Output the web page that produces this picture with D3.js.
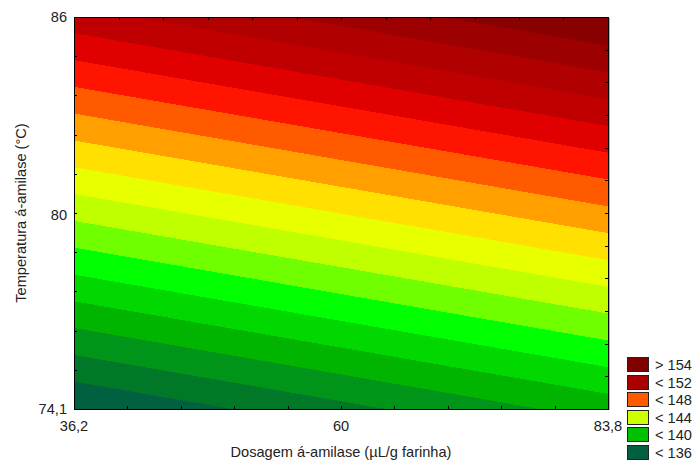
<!DOCTYPE html>
<html><head><meta charset="utf-8">
<script src="https://cdn.jsdelivr.net/npm/d3@7"></script>
<style>
html,body{margin:0;padding:0;background:#fff;}
text{font-family:"Liberation Sans",Arial,sans-serif;font-size:14.6px;fill:#222;}
</style></head>
<body><svg id="c" width="697" height="464"></svg>
<script>
// ---- data ----
const xDomain = [36.2, 83.8];
const yDomain = [74.1, 86];
const xTickValues = [36.2, 60, 83.8];
const yTickValues = [74.1, 80, 86];
// contour level lines: temperature at left edge (x=36.2) and right edge (x=83.8), bottom to top
const levelTempLeft  = [74.93, 75.74, 76.56, 77.37, 78.18, 79.00, 79.81, 80.63, 81.44, 82.25, 83.07, 83.88, 84.69, 85.51, 86.32, 87.14, 87.95];
const levelTempRight = [72.12, 72.93, 73.74, 74.56, 75.37, 76.18, 77.00, 77.81, 78.62, 79.44, 80.25, 81.07, 81.88, 82.69, 83.51, 84.32, 85.13];
// band colours, lowest to highest
const bandColors = ["#006040","#007828","#009418","#00b400","#00d800","#00ff00","#70ff00","#c0ff00","#e8ff00","#ffe000","#ffa000","#ff5a00","#ff1400","#e00000","#c00000","#b00000","#9c0000","#880000"];
const legendLabels = ["> 154","< 152","< 148","< 144","< 140","< 136"];
const legendColors = ["#800000","#aa0000","#ff5a00","#ccff00","#00c000","#006040"];
const xTitle = "Dosagem á-amilase (µL/g farinha)";
const yTitle = "Temperatura á-amilase (°C)";

// ---- layout ----
const svg = d3.select("#c");
const L = 74, R = 608, T = 17, B = 409;
const x = d3.scaleLinear().domain(xDomain).range([L, R]);
const y = d3.scaleLinear().domain(yDomain).range([B, T]);
const fmt = v => String(v).replace(".", ",");

svg.append("defs").append("clipPath").attr("id","clip")
  .append("rect").attr("x",L).attr("y",T).attr("width",R-L).attr("height",B-T);

const g = svg.append("g").attr("clip-path","url(#clip)");
g.append("rect").attr("x",L).attr("y",T).attr("width",R-L).attr("height",B-T)
  .attr("fill", bandColors[0]);
const yFar = yDomain[1] + 10;
levelTempLeft.forEach((tLeft, k) => {
  const tRight = levelTempRight[k];
  const pts = [[xDomain[0], tLeft],[xDomain[1], tRight],[xDomain[1], yFar],[xDomain[0], yFar]];
  g.append("path")
    .attr("d", d3.line().x(d=>x(d[0])).y(d=>y(d[1]))(pts) + "Z")
    .attr("fill", bandColors[k+1])
    .attr("shape-rendering","crispEdges");
});

// frame
svg.append("rect").attr("x",L+0.5).attr("y",T+0.5).attr("width",R-L).attr("height",B-T)
  .attr("fill","none").attr("stroke","#000").attr("stroke-width",1);
svg.append("line").attr("x1",R+1.5).attr("x2",R+1.5).attr("y1",T+1).attr("y2",B+1)
  .attr("stroke","#b0b0b0");

// inner ticks
const ticks = svg.append("g").attr("stroke","#000").attr("stroke-width",1);
const tl = 3;
d3.range(11).map(i => xDomain[0] + i*(xDomain[1]-xDomain[0])/10).forEach(v => {
  const px = Math.round(x(v)) + 0.5;
  ticks.append("line").attr("x1",px).attr("x2",px).attr("y1",B).attr("y2",B-tl);
});
d3.range(13).map(i => xDomain[0] + i*(xDomain[1]-xDomain[0])/12).forEach(v => {
  const px = Math.round(x(v)) + 0.5;
  ticks.append("line").attr("x1",px).attr("x2",px).attr("y1",T).attr("y2",T+tl);
});
d3.range(11).map(i => yDomain[0] + i*(yDomain[1]-yDomain[0])/10).forEach(v => {
  const py = Math.round(y(v)) + 0.5;
  ticks.append("line").attr("x1",L).attr("x2",L+tl).attr("y1",py).attr("y2",py);
});
d3.range(13).map(i => yDomain[0] + i*(yDomain[1]-yDomain[0])/12).forEach(v => {
  const py = Math.round(y(v)) + 0.5;
  ticks.append("line").attr("x1",R).attr("x2",R-tl).attr("y1",py).attr("y2",py);
});

// tick labels
xTickValues.forEach(v => {
  svg.append("text").attr("x", x(v)).attr("y", 431).attr("text-anchor","middle").text(fmt(v));
});
yTickValues.forEach(v => {
  svg.append("text").attr("x", 67).attr("y", y(v)).attr("dy","0.36em").attr("text-anchor","end").text(fmt(v));
});

// axis titles
svg.append("text").attr("x", (L+R)/2).attr("y", 457).attr("text-anchor","middle").text(xTitle);
svg.append("text").attr("transform", `translate(26,${(T+B)/2}) rotate(-90)`)
  .attr("text-anchor","middle").text(yTitle);

// legend
const lg = svg.append("g");
legendLabels.forEach((lab, i) => {
  const yy = 357 + i*17.6;
  lg.append("rect").attr("x",627.5).attr("y",Math.round(yy)+0.5).attr("width",21).attr("height",14)
    .attr("fill",legendColors[i]).attr("stroke","#222").attr("stroke-width",1);
  lg.append("text").attr("x",655).attr("y",Math.round(yy)+7.5).attr("dy","0.36em").text(lab);
});
</script></body></html>
